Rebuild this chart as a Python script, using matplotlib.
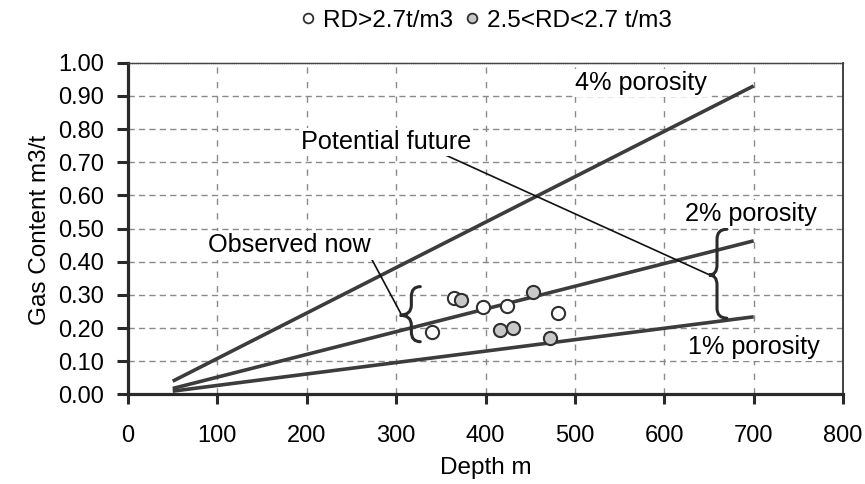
import matplotlib
matplotlib.use("Agg")
import matplotlib.pyplot as plt
from matplotlib.lines import Line2D
from matplotlib.path import Path
from matplotlib.patches import PathPatch

plt.rcParams['font.family'] = ['Liberation Sans', 'DejaVu Sans']

# porosity lines (depth endpoints, gas content)
line_depth = [50, 700]
gc_4pct = [0.040, 0.930]
gc_2pct = [0.018, 0.463]
gc_1pct = [0.010, 0.234]

# observed samples
high_rd_depth = [340, 365, 397, 424, 481]
high_rd_gc = [0.189, 0.290, 0.263, 0.268, 0.245]
mid_rd_depth = [373, 416, 431, 453, 472]
mid_rd_gc = [0.285, 0.194, 0.199, 0.310, 0.171]

x_ticks = [0, 100, 200, 300, 400, 500, 600, 700, 800]
y_ticks = [0.0, 0.1, 0.2, 0.3, 0.4, 0.5, 0.6, 0.7, 0.8, 0.9, 1.0]

LINE_C = '#3c3c3c'
FS_TICK = 17
FS_ANN = 18.2
FS_LAB = 17.5

fig = plt.figure(figsize=(8.65, 4.84), dpi=100)
ax = fig.add_axes([0.148, 0.185, 0.8266, 0.6855])
ax.set_xlim(0, 800)
ax.set_ylim(0, 1.0)

# grid
for xv in x_ticks[1:-1]:
    ax.axvline(xv, color='#8a8a8a', lw=1.0, ls=(0, (4.5, 6)), zorder=0)
for yv in y_ticks[1:-1]:
    ax.axhline(yv, color='#8a8a8a', lw=1.0, ls=(0, (4.5, 3)), zorder=0)

ax.plot(line_depth, gc_4pct, color=LINE_C, lw=2.6, solid_capstyle='butt', zorder=3)
ax.plot(line_depth, gc_2pct, color=LINE_C, lw=2.6, solid_capstyle='butt', zorder=3)
ax.plot(line_depth, gc_1pct, color=LINE_C, lw=2.6, solid_capstyle='butt', zorder=3)

ax.plot(high_rd_depth, high_rd_gc, ls='none', marker='o', ms=9.5, mfc='white',
        mec='#303030', mew=1.5, zorder=5)
ax.plot(mid_rd_depth, mid_rd_gc, ls='none', marker='o', ms=9.5, mfc='#c8c8c8',
        mec='#303030', mew=1.5, zorder=5)


def brace(spine_x, tip_x, end_x, y_bot, y_tip, y_top, dy=0.03):
    verts = [
        (end_x, y_top), (spine_x, y_top), (spine_x, y_top - dy),
        (spine_x, y_tip + dy),
        (spine_x, y_tip), (tip_x, y_tip),
        (spine_x, y_tip), (spine_x, y_tip - dy),
        (spine_x, y_bot + dy),
        (spine_x, y_bot), (end_x, y_bot),
    ]
    codes = [Path.MOVETO, Path.CURVE3, Path.CURVE3,
             Path.LINETO,
             Path.CURVE3, Path.CURVE3,
             Path.CURVE3, Path.CURVE3,
             Path.LINETO,
             Path.CURVE3, Path.CURVE3]
    ax.add_patch(PathPatch(Path(verts, codes), fill=False, lw=2.2,
                           edgecolor='#2a2a2a', zorder=6, capstyle='round'))


brace(317, 304, 327, 0.159, 0.239, 0.325)
brace(659, 650, 670, 0.230, 0.360, 0.498)

# annotation leader lines
ax.plot([272, 305], [0.411, 0.245], color='#111111', lw=1.2, zorder=4)
ax.plot([350, 651], [0.728, 0.360], color='#111111', lw=1.2, zorder=4)

box = dict(facecolor='white', edgecolor='none', pad=1.5)
ax.text(289, 0.762, 'Potential future', fontsize=FS_ANN, ha='center', va='center',
        bbox=box, zorder=7)
ax.text(181, 0.449, 'Observed now', fontsize=FS_ANN, ha='center', va='center',
        bbox=box, zorder=7)
ax.text(574, 0.940, '4% porosity', fontsize=FS_ANN, ha='center', va='center',
        bbox=box, zorder=7)
ax.text(697, 0.543, '2% porosity', fontsize=FS_ANN, ha='center', va='center',
        bbox=box, zorder=7)
ax.text(700, 0.143, '1% porosity', fontsize=FS_ANN, ha='center', va='center',
        bbox=box, zorder=7)

# spines
for s in ['left', 'bottom']:
    ax.spines[s].set_linewidth(2.3)
    ax.spines[s].set_color('#2a2a2a')
ax.spines['top'].set_linewidth(1.0)
ax.spines['top'].set_color('#444444')
ax.spines['top'].set_linestyle((0, (1, 0.5)))
ax.spines['right'].set_linewidth(1.3)
ax.spines['right'].set_color('#333333')

ax.set_xticks(x_ticks)
ax.set_yticks(y_ticks)
ax.set_xticklabels([str(v) for v in x_ticks])
ax.set_yticklabels([f'{v:.2f}' for v in y_ticks])
ax.tick_params(axis='x', direction='out', length=7, width=2.2, color='#2a2a2a',
               pad=15, labelsize=FS_TICK)
ax.tick_params(axis='y', direction='out', length=8, width=2.2, color='#2a2a2a',
               pad=9, labelsize=FS_TICK)

fig.text(0.562, 0.033, 'Depth m', fontsize=FS_LAB, ha='center', va='center')
fig.text(0.046, 0.525, 'Gas Content m3/t', fontsize=FS_LAB, ha='center', va='center',
         rotation=90)

handles = [
    Line2D([], [], ls='none', marker='o', ms=7, mfc='white', mec='#303030', mew=1.3),
    Line2D([], [], ls='none', marker='o', ms=7, mfc='#c8c8c8', mec='#303030', mew=1.3),
]
fig.legend(handles, ['RD>2.7t/m3', '2.5<RD<2.7 t/m3'], loc='center',
           bbox_to_anchor=(0.562, 0.957), ncol=2, frameon=False, fontsize=FS_LAB,
           handlelength=0.6, handletextpad=0.3, columnspacing=0.5,
           borderpad=0)

fig.savefig('out.png', dpi=100)
